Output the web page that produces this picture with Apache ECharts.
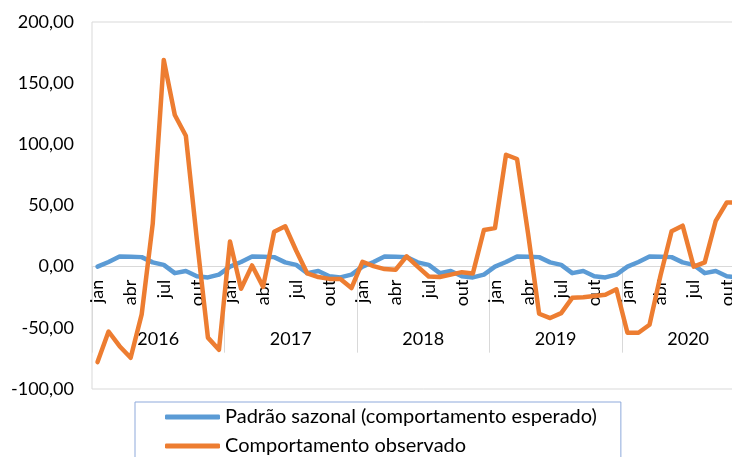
<!DOCTYPE html>
<html>
<head>
<meta charset="utf-8">
<script src="https://cdn.jsdelivr.net/npm/echarts@6/dist/echarts.min.js"></script>
<style>
html,body{margin:0;padding:0;background:#fff;overflow:hidden;width:732px;height:457px;}
#chart{width:760px;height:457px;}
</style>
</head>
<body>
<div id="chart"></div>
<script>
var monthNames = ['jan','fev','mar','abr','mai','jun','jul','ago','set','out','nov','dez'];
var years = ['2016','2017','2018','2019','2020'];
var months = [];
years.forEach(function(){ monthNames.forEach(function(m){ months.push(m); }); });

var seriesNames = ['Padrão sazonal (comportamento esperado)', 'Comportamento observado'];

var seasonal = [
  0, 3.8, 8.3, 8.1, 7.8, 3.5, 1.5, -5.3, -3.6, -7.8, -8.8, -6.5,
  0, 3.8, 8.3, 8.1, 7.8, 3.5, 1.5, -5.3, -3.6, -7.8, -8.8, -6.5,
  0, 3.8, 8.3, 8.1, 7.8, 3.5, 1.5, -5.3, -3.6, -7.8, -8.8, -6.5,
  0, 3.8, 8.3, 8.1, 7.8, 3.5, 1.5, -5.3, -3.6, -7.8, -8.8, -6.5,
  0, 3.8, 8.3, 8.1, 7.8, 3.5, 1.5, -5.3, -3.6, -7.8, -8.8, -6.5
];

var observed = [
  -78, -53, -65, -74.5, -39, 35, 169, 124, 107, 22, -58, -68,
  20.5, -18, 1, -16.5, 28.5, 33, 13, -5.5, -8.5, -10, -10, -17.5,
  4, 0.5, -2, -2.5, 8.5, 0, -8, -8.5, -6.5, -4.5, -5.5, 30,
  31.5, 91.5, 88, 27, -38.5, -42, -38, -25.5, -25, -24, -23, -18.5,
  -54, -54, -47.5, -7, 29, 33.5, 0, 3.5, 37.5, 52.5, 52.5, 50
];

var yMin = -100, yMax = 200, yStep = 50;

var FONT = 'Lato';
var gridLeft = 92, gridTop = 22, gridHeight = 367, gridWidth = 662.4;
var zeroHeight = gridHeight * (yMax - 0) / (yMax - yMin);

var chart = echarts.init(document.getElementById('chart'), null, {renderer: 'canvas'});
chart.setOption({
  animation: false,
  backgroundColor: '#ffffff',
  textStyle: {fontFamily: FONT},
  grid: [
    {left: gridLeft, top: gridTop, width: gridWidth, height: gridHeight, show: true, borderColor: '#D9D9D9', borderWidth: 1, backgroundColor: 'transparent'},
    {left: gridLeft, top: gridTop, width: gridWidth, height: zeroHeight, show: false}
  ],
  legend: {
    orient: 'vertical',
    left: 135, top: 402, height: 140,
    padding: [5, 24, 40, 30],
    itemGap: 9,
    itemWidth: 55, itemHeight: 5,
    icon: 'roundRect',
    borderColor: '#8EA9DB', borderWidth: 1,
    textStyle: {fontFamily: FONT, fontSize: 20, color: '#000'},
    data: seriesNames
  },
  xAxis: [
    {
      type: 'category', gridIndex: 0, data: months, boundaryGap: true,
      axisLine: {onZero: true, lineStyle: {color: '#D9D9D9', width: 1}},
      axisTick: {show: false},
      axisLabel: {show: false},
      splitLine: {show: false}
    },
    {
      type: 'category', gridIndex: 1, data: months, boundaryGap: true, position: 'bottom',
      axisLine: {show: false},
      axisTick: {show: false},
      axisLabel: {interval: 2, rotate: 90, margin: 13, fontFamily: FONT, fontSize: 18, color: '#000'},
      splitLine: {show: false}
    },
    {
      type: 'category', gridIndex: 1, data: years, boundaryGap: true, position: 'bottom', offset: 0,
      axisLine: {show: false},
      axisTick: {show: true, length: 86, lineStyle: {color: '#D9D9D9', width: 1}},
      axisLabel: {margin: 64, fontFamily: FONT, fontSize: 18, color: '#000'},
      splitLine: {show: false}
    }
  ],
  yAxis: [
    {
      type: 'value', gridIndex: 0, min: yMin, max: yMax, interval: yStep,
      axisLine: {show: false}, axisTick: {show: false}, splitLine: {show: false},
      axisLabel: {margin: 18, fontFamily: FONT, fontSize: 18, color: '#000',
        formatter: function(v){ return v.toFixed(2).replace('.', ','); }}
    },
    {type: 'value', gridIndex: 1, min: 0, max: 1, show: false}
  ],
  series: [
    {name: seriesNames[0], type: 'line', xAxisIndex: 0, yAxisIndex: 0, data: seasonal,
     showSymbol: false, symbol: 'none', color: '#5B9BD5',
     lineStyle: {width: 4.5, color: '#5B9BD5', join: 'round', cap: 'round'}},
    {name: seriesNames[1], type: 'line', xAxisIndex: 0, yAxisIndex: 0, data: observed,
     showSymbol: false, symbol: 'none', color: '#ED7D31',
     lineStyle: {width: 4.5, color: '#ED7D31', join: 'round', cap: 'round'}}
  ]
});
</script>
</body>
</html>
